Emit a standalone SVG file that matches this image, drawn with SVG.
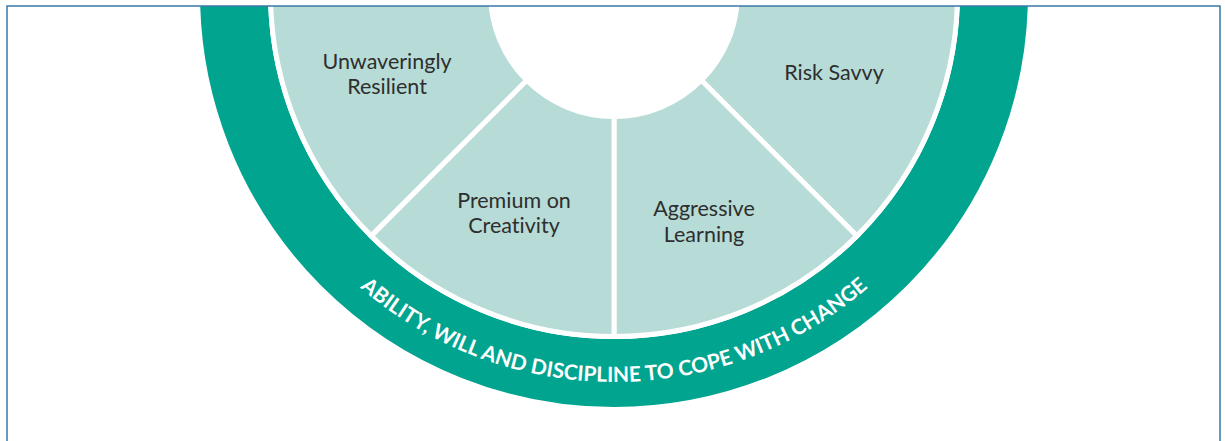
<svg xmlns="http://www.w3.org/2000/svg" width="1225" height="441" viewBox="0 0 1225 441">
  <style>
    .sector { fill: #b7dbd6; stroke: #ffffff; stroke-width: 5; stroke-linejoin: miter; }
    .label { font-family: Lato, "Open Sans", sans-serif; font-size: 21.5px; fill: #2e2e2e; text-anchor: middle; font-variant-ligatures: none; }
    .ring-text { font-family: Lato, "Open Sans", sans-serif; font-size: 21px; font-weight: 700; fill: #ffffff; font-variant-ligatures: none; }
  </style>
  <defs>
    <clipPath id="frame-clip">
      <rect x="7" y="6" width="1213" height="440"/>
    </clipPath>
    <!-- baseline for the outer ring caption, running left to right under the centre -->
    <path id="ring-baseline" d="M 225 -7 A 389 389 0 0 0 1003 -7"/>
  </defs>

  <rect x="0" y="0" width="1225" height="441" fill="#ffffff"/>

  <g clip-path="url(#frame-clip)">
    <!-- outer teal band -->
    <g id="outer-ring">
      <circle cx="614" cy="-7" r="380" fill="none" stroke="#00a48f" stroke-width="68"/>
      <text class="ring-text"><textPath href="#ring-baseline" startOffset="50%" text-anchor="middle">ABILITY, WILL AND DISCIPLINE TO COPE WITH CHANGE</textPath></text>
    </g>

    <!-- four quarter segments of the inner wheel -->
    <g id="risk-savvy">
      <path class="sector" d="M 957.5 -7 A 343.5 343.5 0 0 1 856.89 235.89 L 701.33 80.33 A 123.5 123.5 0 0 0 737.5 -7 Z"/>
      <text class="label" x="834" y="80">Risk Savvy</text>
    </g>
    <g id="aggressive-learning">
      <path class="sector" d="M 856.89 235.89 A 343.5 343.5 0 0 1 614 336.5 L 614 116.5 A 123.5 123.5 0 0 0 701.33 80.33 Z"/>
      <text class="label" x="704" y="216">Aggressive</text>
      <text class="label" x="704" y="241.7">Learning</text>
    </g>
    <g id="premium-on-creativity">
      <path class="sector" d="M 614 336.5 A 343.5 343.5 0 0 1 371.11 235.89 L 526.67 80.33 A 123.5 123.5 0 0 0 614 116.5 Z"/>
      <text class="label" x="514" y="207.7">Premium on</text>
      <text class="label" x="514" y="233.3">Creativity</text>
    </g>
    <g id="unwaveringly-resilient">
      <path class="sector" d="M 371.11 235.89 A 343.5 343.5 0 0 1 270.5 -7 L 490.5 -7 A 123.5 123.5 0 0 0 526.67 80.33 Z"/>
      <text class="label" x="387" y="69.3">Unwaveringly</text>
      <text class="label" x="387" y="94.3">Resilient</text>
    </g>
  </g>

  <!-- outer frame -->
  <rect x="7" y="6" width="1213" height="445" fill="none" stroke="#3b78a6" stroke-width="1.5"/>
</svg>
